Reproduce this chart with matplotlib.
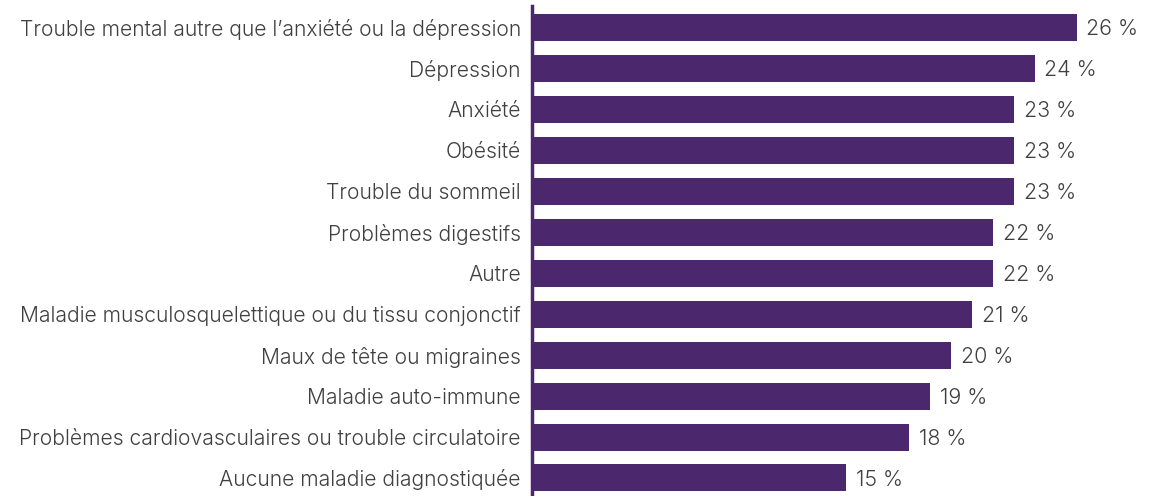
import matplotlib
matplotlib.use('Agg')
import matplotlib.pyplot as plt

categories = [
    "Trouble mental autre que l’anxiété ou la dépression",
    "Dépression",
    "Anxiété",
    "Obésité",
    "Trouble du sommeil",
    "Problèmes digestifs",
    "Autre",
    "Maladie musculosquelettique ou du tissu conjonctif",
    "Maux de tête ou migraines",
    "Maladie auto-immune",
    "Problèmes cardiovasculaires ou trouble circulatoire",
    "Aucune maladie diagnostiquée",
]
values = [26, 24, 23, 23, 23, 22, 22, 21, 20, 19, 18, 15]

purple = '#4B286D'
text_color = '#404040'

plt.rcParams['font.family'] = ['Inter', 'DejaVu Sans']
plt.rcParams['font.weight'] = 300

fig = plt.figure(figsize=(11.58, 4.96), dpi=100)
ax = fig.add_axes([532 / 1158, 0, 1 - 532 / 1158, 1 - 6 / 496])

ypos = list(range(len(categories)))
ax.barh(ypos, values, height=0.66, color=purple)

for y, v in zip(ypos, values):
    ax.text(v + 0.45, y + 0.04, f'{v} %', va='center', ha='left', fontsize=15.4,
            color=text_color, weight=300)

ax.set_xlim(0, 626 / 20.96)
ax.set_ylim(11 + 0.44, -0.525)
ax.set_yticks(ypos)
ax.set_yticklabels(categories, fontsize=15.2, color=text_color, weight=300)
ax.tick_params(axis='y', length=0, pad=8)
ax.set_xticks([])
for s in ['top', 'right', 'bottom']:
    ax.spines[s].set_visible(False)
ax.spines['left'].set_linewidth(2.5)
ax.spines['left'].set_color(purple)

fig.savefig('out.png', dpi=100)
